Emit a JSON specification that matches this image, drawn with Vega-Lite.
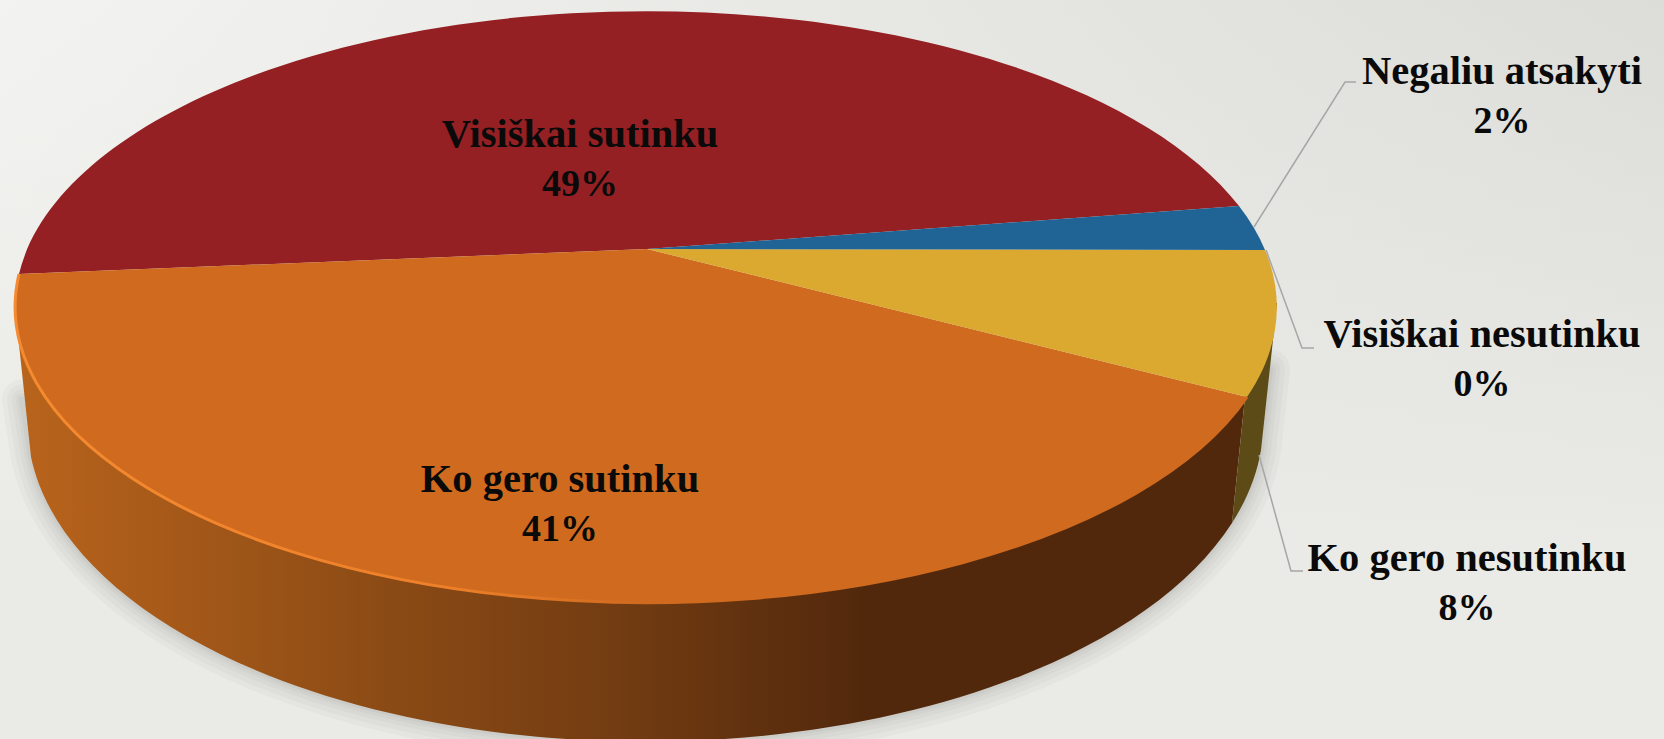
{"$schema":"https://vega.github.io/schema/vega-lite/v6.json","width":1664,"height":739,"padding":0,"autosize":{"type":"none"},"background":"#e9e9e6","view":{"stroke":null},"config":{"axis":{"grid":false}},
"resolve":{"scale":{"shape":"independent"}},
"data":{"values":[{"name":"Visiškai sutinku","share":0.49},{"name":"Ko gero sutinku","share":0.41},{"name":"Ko gero nesutinku","share":0.08},{"name":"Visiškai nesutinku","share":0},{"name":"Negaliu atsakyti","share":0.02}]},
"layer":[
{"transform":[{"filter":"datum.name==='Visiškai sutinku'"}],"mark":{"type":"rect","fill":{"gradient":"linear","x1":0,"y1":0,"x2":1,"y2":0,"stops":[{"offset":0,"color":"#f3f3f1"},{"offset":1,"color":"#dcdcd8"}]}}},
{"transform":[{"filter":"datum.name==='Visiškai sutinku'"}],"mark":{"type":"rect","fill":{"gradient":"linear","x1":0,"y1":0,"x2":0,"y2":1,"stops":[{"offset":0,"color":"rgba(234,234,230,0)"},{"offset":0.75,"color":"rgba(234,234,230,1)"},{"offset":1,"color":"rgba(234,234,230,1)"}]}}},
{"transform":[{"filter":"datum.name==='Ko gero sutinku'"}],"mark":{"type":"point","size":4,"opacity":0.035,"strokeWidth":40,"stroke":"#555","strokeCap":"round","filled":false,"shape":"M-810,30L-801,87.5A618,319,0,0,0,429,80.5L438,0"}},
{"transform":[{"filter":"datum.name==='Ko gero sutinku'"}],"mark":{"type":"point","size":4,"opacity":0.035,"strokeWidth":30,"stroke":"#555","strokeCap":"round","filled":false,"shape":"M-810,30L-801,87.5A618,319,0,0,0,429,80.5L438,0"}},
{"transform":[{"filter":"datum.name==='Ko gero sutinku'"}],"mark":{"type":"point","size":4,"opacity":0.035,"strokeWidth":20,"stroke":"#555","strokeCap":"round","filled":false,"shape":"M-810,30L-801,87.5A618,319,0,0,0,429,80.5L438,0"}},
{"transform":[{"filter":"datum.name==='Ko gero sutinku'"}],"mark":{"type":"point","size":4,"opacity":0.04,"strokeWidth":12,"stroke":"#555","strokeCap":"round","filled":false,"shape":"M-810,30L-801,87.5A618,319,0,0,0,429,80.5L438,0"}},
{"transform":[{"filter":"datum.name==='Ko gero sutinku'"}],"mark":{"type":"point","size":4,"opacity":0.05,"strokeWidth":6,"stroke":"#555","strokeCap":"round","filled":false,"shape":"M-810,30L-801,87.5A618,319,0,0,0,429,80.5L438,0"}},
{"transform":[{"filter":"datum.name==='Ko gero sutinku'"}],"mark":{"type":"point","size":4,"opacity":1,"filled":true,"shape":"M-817,-62.5L-801,87.5A618,319,0,0,0,400,153.5L413,27.5L-186,-62.5Z","fill":{"gradient":"linear","x1":0,"y1":0,"x2":1,"y2":0,"stops":[{"offset":0,"color":"#b9641c"},{"offset":0.31,"color":"#8a4a15"},{"offset":0.49,"color":"#733c12"},{"offset":0.69,"color":"#52280c"},{"offset":1,"color":"#52280c"}]}}},
{"transform":[{"filter":"datum.name==='Ko gero nesutinku'"}],"mark":{"type":"point","size":4,"opacity":1,"filled":true,"fill":"#5c4a17","shape":"M413,27.5L400,153.5A618,319,0,0,0,429,80.5L445,-66.5L413,-69.5Z"}},
{"transform":[{"filter":"datum.share>0"}],"mark":{"type":"point","size":4,"opacity":1,"filled":true},"encoding":{
"fill":{"field":"name","type":"nominal","legend":null,"scale":{"domain":["Visiškai sutinku","Ko gero sutinku","Ko gero nesutinku","Negaliu atsakyti"],"range":["#942023","#cf6a1f","#dba830","#206496"]}},
"shape":{"field":"name","type":"nominal","legend":null,"scale":{"domain":["Visiškai sutinku","Ko gero sutinku","Ko gero nesutinku","Negaliu atsakyti"],"range":["M-185,-120.5L-813,-95.5A631,296,0,0,1,407,-163.5Z","M-185,-120.5L415,27.5A631,296,0,0,1,-813,-95.5Z","M-185,-120.5L433,-119.5A631,296,0,0,1,415,27.5Z","M-185,-120.5L407,-163.5A631,296,0,0,1,433,-119.5Z"]}}}},
{"transform":[{"filter":"datum.name==='Ko gero sutinku'"}],"mark":{"type":"point","size":4,"opacity":1,"filled":false,"strokeWidth":3,"shape":"M-813,-95.5A631,296,0,0,0,415,27.5","stroke":{"gradient":"linear","x1":0,"y1":0,"x2":1,"y2":0,"stops":[{"offset":0,"color":"#f58a30"},{"offset":0.35,"color":"#ee8029"},{"offset":0.51,"color":"#cf6a1f"},{"offset":1,"color":"#cf6a1f"}]}}},
{"transform":[{"filter":"indexof(['Negaliu atsakyti','Visiškai nesutinku','Ko gero nesutinku'],datum.name)>=0"}],"mark":{"type":"point","size":4,"opacity":1,"filled":false,"stroke":"#a6a6a6","strokeWidth":1.5},"encoding":{
"shape":{"field":"name","type":"nominal","legend":null,"scale":{"domain":["Negaliu atsakyti","Visiškai nesutinku","Ko gero nesutinku"],"range":["M422,-142.5L513,-287.5L524,-287.5","M434,-119.5L470,-21.5L482,-21.5","M427,85.5L459,201.5L471,201.5"]}}}},
{"mark":{"type":"text","font":"Liberation Serif","fontWeight":"bold","fontSize":40.5,"color":"#0a0a0a","baseline":"middle","align":"center"},"encoding":{
"x":{"field":"share","type":"quantitative","axis":null,"scale":{"nice":false,"zero":false,"domain":[0,0.02,0.08,0.41,0.49],"range":[1482,1502,1467,560,580]}},
"y":{"field":"share","type":"quantitative","axis":null,"scale":{"nice":false,"zero":false,"domain":[0,0.02,0.08,0.41,0.49],"range":[335,72,559,480,135]}},
"text":{"field":"name"}}},
{"mark":{"type":"text","font":"Liberation Serif","fontWeight":"bold","fontSize":38,"color":"#0a0a0a","baseline":"middle","align":"center","dy":50},"encoding":{
"x":{"field":"share","type":"quantitative","axis":null},
"y":{"field":"share","type":"quantitative","axis":null},
"text":{"field":"share","type":"quantitative","format":".0%"}}}
]}
